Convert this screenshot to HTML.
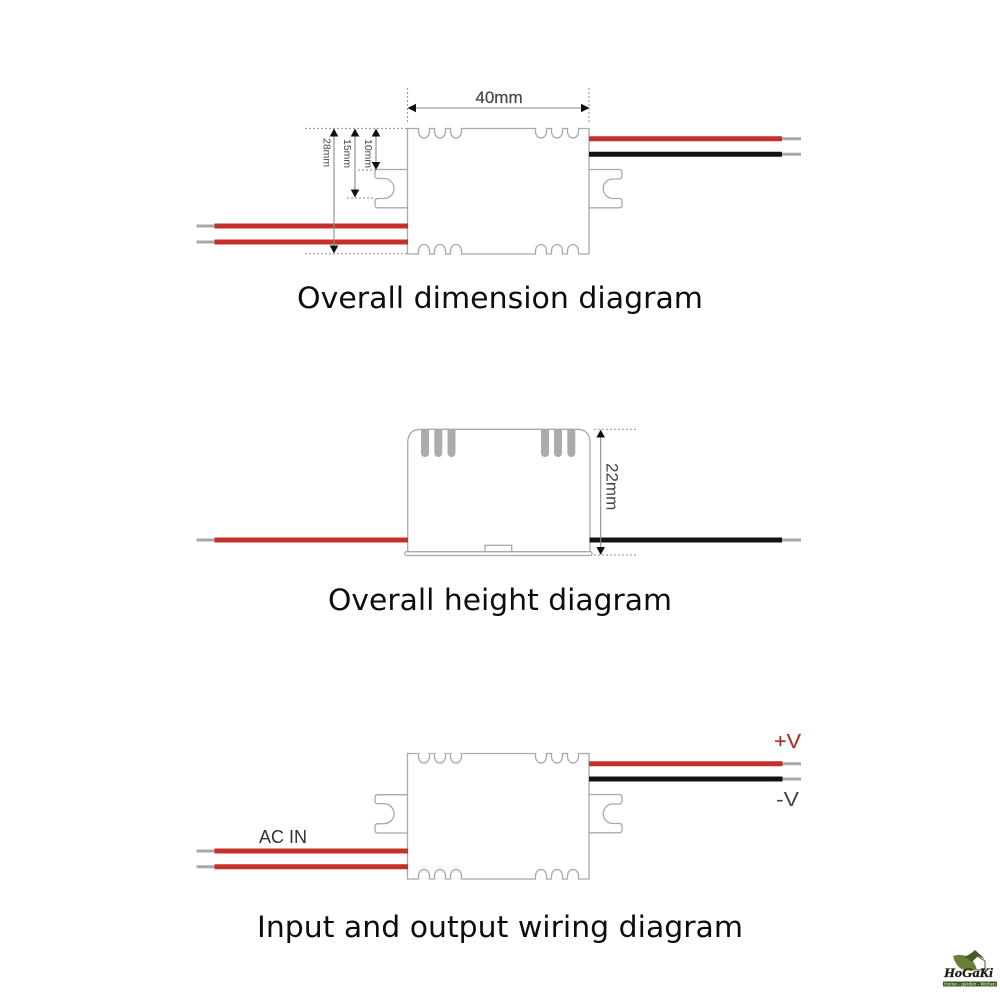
<!DOCTYPE html>
<html>
<head>
<meta charset="utf-8">
<style>
html,body{margin:0;padding:0;background:#fff;width:1000px;height:1000px;overflow:hidden}
svg{display:block}
text{font-family:"Liberation Sans",sans-serif}
.cap{font-family:"DejaVu Sans",sans-serif;font-size:29px;fill:#0d0d0d}
.o{fill:none;stroke:#a9a9a9;stroke-width:1.3}
.d{stroke:#a0a0a0;stroke-width:1.2;stroke-dasharray:2 2;fill:none}
.l{stroke:#8a8a8a;stroke-width:1.1;fill:none}
.g{stroke:#a8a8a8;stroke-width:3}
.r{stroke:#c4302b;stroke-width:5}
.k{stroke:#161212;stroke-width:5}
.a{fill:#111}
.t{fill:#444}
</style>
</head>
<body>
<svg width="1000" height="1000" viewBox="0 0 1000 1000" xmlns="http://www.w3.org/2000/svg">
<defs>
<path id="box" class="o" d="M0,0 H11 v3 a5.5,6.5 0 0 0 11,0 v-3 h5 v3 a5.5,6.5 0 0 0 11,0 v-3 h5 v3 a5.5,6.5 0 0 0 11,0 v-3 H128 v3 a5.5,6.5 0 0 0 11,0 v-3 h5 v3 a5.5,6.5 0 0 0 11,0 v-3 h5 v3 a5.5,6.5 0 0 0 11,0 v-3 H181.5 V125.5 H171 v-3 a5.5,6.5 0 0 0 -11,0 v3 h-5 v-3 a5.5,6.5 0 0 0 -11,0 v3 h-5 v-3 a5.5,6.5 0 0 0 -11,0 v3 H54 v-3 a5.5,6.5 0 0 0 -11,0 v3 h-5 v-3 a5.5,6.5 0 0 0 -11,0 v3 h-5 v-3 a5.5,6.5 0 0 0 -11,0 v3 H0 Z"/>
<path id="tabL" class="o" d="M0,0 H-29.5 Q-32.5,0 -32.5,3 V6 Q-32.5,9 -29.5,9 H-23.5 A10,10 0 0 1 -23.5,29 H-29.5 Q-32.5,29 -32.5,32 V35.5 Q-32.5,38.3 -29.5,38.3 H0"/>
<path id="tabR" class="o" d="M0,0 H30 Q33,0 33,3 V6 Q33,9.5 30,9.5 H23 A9.8,9.8 0 0 0 23,29 H30 Q33,29 33,32 V35.5 Q33,38.3 30,38.3 H0"/>
</defs>

<!-- Diagram 1 -->
<use href="#box" x="407.5" y="128.5"/>
<use href="#tabL" x="407.5" y="169.5"/>
<use href="#tabR" x="589" y="169.5"/>
<g>
<line class="g" x1="782" y1="138.7" x2="801" y2="138.7"/>
<line class="g" x1="782" y1="154.3" x2="801" y2="154.3"/>
<line class="r" x1="589" y1="138.7" x2="782" y2="138.7"/>
<line class="k" x1="589" y1="154.3" x2="782" y2="154.3"/>
<line class="g" x1="196.5" y1="226" x2="215" y2="226"/>
<line class="g" x1="196.5" y1="242" x2="215" y2="242"/>
<line class="r" x1="214.5" y1="226" x2="408" y2="226"/>
<line class="r" x1="214.5" y1="242" x2="408" y2="242"/>
</g>
<path class="d" d="M305,128.5 H407 M305,253.7 H407 M358,170 H376 M347,198 H375 M407.5,88 V122 M589,88 V122"/>
<path class="l" d="M334,132 V250 M355,132 V194 M376,132 V167 M412,108 H585"/>
<path class="a" d="M334,128.5 l-4.3,8 h8.6 Z M334,253.5 l-4.3,-8 h8.6 Z M355,128.5 l-4.3,8 h8.6 Z M355,197.5 l-4.3,-8 h8.6 Z M376,128.5 l-4.3,8 h8.6 Z M376,170 l-4.3,-8 h8.6 Z M407.5,108 l8.5,-4.3 v8.6 Z M589.5,108 l-8.5,-4.3 v8.6 Z"/>
<text class="t" x="499" y="103" font-size="17" text-anchor="middle" stroke="#444" stroke-width="0.2">40mm</text>
<text class="t" font-size="10.5" transform="translate(323.5,138) rotate(90)">28mm</text>
<text class="t" font-size="10.5" transform="translate(344,139) rotate(90)">15mm</text>
<text class="t" font-size="10.5" transform="translate(365,139) rotate(90)">10mm</text>
<text class="cap" x="500" y="308" text-anchor="middle" textLength="406" lengthAdjust="spacingAndGlyphs">Overall dimension diagram</text>

<!-- Diagram 2 -->
<path class="o" d="M407.7,551.5 V443 Q407.7,429.3 421,429.3 H577 Q590,429.3 590,443 V551.5"/>
<rect class="o" x="405" y="551.7" width="187" height="3.8" rx="1.5"/>
<rect class="o" x="485" y="545.3" width="26.7" height="6.4"/>
<g fill="#ababab">
<path d="M421,429.5 h8 v23.5 a4,4 0 0 1 -8,0 Z"/>
<path d="M434.3,429.5 h8 v23.5 a4,4 0 0 1 -8,0 Z"/>
<path d="M447.5,429.5 h8 v23.5 a4,4 0 0 1 -8,0 Z"/>
<path d="M541,429.5 h8 v23.5 a4,4 0 0 1 -8,0 Z"/>
<path d="M554,429.5 h8 v23.5 a4,4 0 0 1 -8,0 Z"/>
<path d="M567.3,429.5 h8 v23.5 a4,4 0 0 1 -8,0 Z"/>
</g>
<line class="g" x1="196.5" y1="540" x2="215" y2="540"/>
<line class="r" x1="214.5" y1="540" x2="408" y2="540"/>
<line class="g" x1="782" y1="540" x2="801" y2="540"/>
<line class="k" x1="589.5" y1="540" x2="782" y2="540"/>
<path class="d" d="M594,429.3 H638 M594,555 H638"/>
<path class="l" d="M600.7,433 V552"/>
<path class="a" d="M600.7,429.5 l-4.3,8 h8.6 Z M600.7,555 l-4.3,-8 h8.6 Z"/>
<text class="t" font-size="17" transform="translate(606.5,463) rotate(90)">22mm</text>
<text class="cap" x="500" y="610" text-anchor="middle" textLength="344" lengthAdjust="spacingAndGlyphs">Overall height diagram</text>

<!-- Diagram 3 -->
<use href="#box" x="407.5" y="753.5"/>
<use href="#tabL" x="407.5" y="794.7"/>
<use href="#tabR" x="589" y="794.5"/>
<line class="g" x1="782" y1="763.7" x2="801" y2="763.7"/>
<line class="g" x1="782" y1="779" x2="801" y2="779"/>
<line class="r" x1="589" y1="763.7" x2="782.5" y2="763.7"/>
<line class="k" x1="589" y1="779" x2="782.5" y2="779"/>
<line class="g" x1="196.5" y1="851" x2="215" y2="851"/>
<line class="g" x1="196.5" y1="866.7" x2="215" y2="866.7"/>
<line class="r" x1="214.5" y1="851" x2="408" y2="851"/>
<line class="r" x1="214.5" y1="866.7" x2="408" y2="866.7"/>
<text x="774" y="748" font-size="20.5" fill="#a8342e" textLength="27" lengthAdjust="spacingAndGlyphs" stroke="#a8342e" stroke-width="0.2">+V</text>
<text x="776" y="806" font-size="20.5" fill="#444" textLength="23" lengthAdjust="spacingAndGlyphs">-V</text>
<text x="259" y="843" font-size="18" fill="#333" textLength="48" lengthAdjust="spacingAndGlyphs">AC IN</text>
<text class="cap" x="500" y="937" text-anchor="middle" textLength="486" lengthAdjust="spacingAndGlyphs">Input and output wiring diagram</text>

<!-- Logo -->
<path d="M953,956 Q962,953 969,958 Q975,962 977,970 Q966,972 960,968 Q955,964 953,956 Z" fill="#6a7f38"/>
<path d="M963,957 Q970,955 975,950 L985,959 L978,956 L972,962 Q968,958 963,957 Z" fill="#47592a"/>
<path d="M977,956 L985,961 L985,970 L977,970" fill="none" stroke="#4c4c3c" stroke-width="1"/>
<text x="944" y="977" font-size="13" font-weight="bold" font-style="italic" fill="#1c1c14" textLength="49" lengthAdjust="spacingAndGlyphs" stroke="#1c1c14" stroke-width="0.3" style="font-family:'Liberation Serif',serif">HoGaKi</text>
<rect x="943" y="981.5" width="54" height="5" fill="#3f5a22"/>
<text x="944" y="985.6" font-size="4.2" fill="#e8eee0" textLength="52" lengthAdjust="spacingAndGlyphs">Home - garden - kitchen</text>
</svg>
</body>
</html>
